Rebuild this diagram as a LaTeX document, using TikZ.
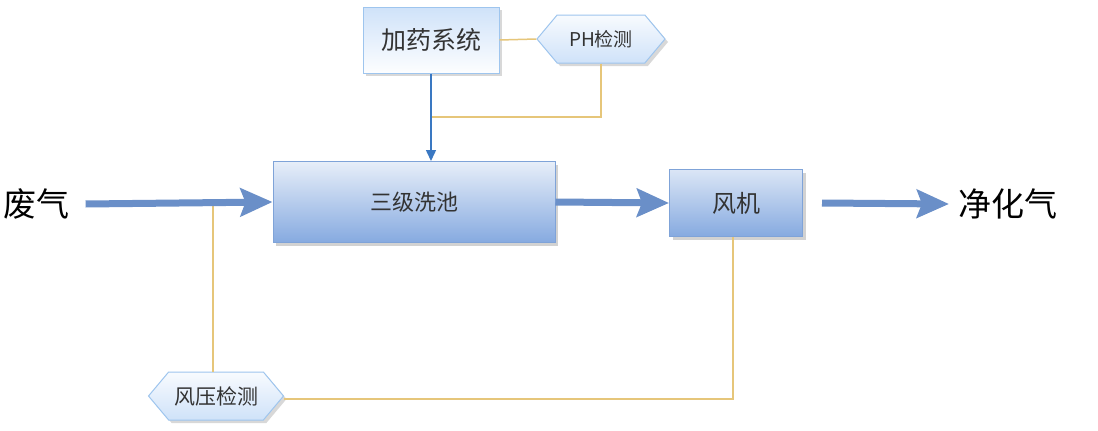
\documentclass[tikz,border=0pt]{standalone}
\usepackage{fontspec}
\setmainfont{Liberation Sans}
\newfontfamily\cjk{Noto Sans CJK SC}
\usetikzlibrary{arrows.meta,shapes.symbols,shadows,calc}
\definecolor{thick}{HTML}{6A8FC8}
\definecolor{gold}{HTML}{E6C67A}
\definecolor{thinblue}{HTML}{3A78C2}
\definecolor{boxline}{HTML}{7FA3D8}
\definecolor{lightline}{HTML}{9EC5EE}
\definecolor{boxblue}{HTML}{86AAE0}
\definecolor{topblue}{HTML}{CFE2F9}
\tikzset{
  mainbox/.style={draw=boxline, line width=1pt, top color=#1, bottom color=boxblue,
    drop shadow={opacity=0.35, shadow xshift=3pt, shadow yshift=-3pt},
    text=black!80},
  lightbox/.style={draw=lightline, line width=1pt, top color=topblue, bottom color=white!95!topblue,
    drop shadow={opacity=0.3, shadow xshift=3pt, shadow yshift=-3pt},
    font=\cjk\fontsize{25}{27}\selectfont, text=black!80},
  hexa/.style={signal, signal to=west and east, signal pointer angle=100,
    draw=lightline, line width=1pt, top color=white!85!topblue, bottom color=topblue,
    drop shadow={opacity=0.3, shadow xshift=3pt, shadow yshift=-3pt},
    inner sep=0pt, text=black!80},
  bigarrow/.style={draw=thick, line width=7pt, -{Stealth[length=32pt,width=28pt,inset=5pt]}},
  goldline/.style={draw=gold, line width=1.5pt},
  label/.style={font=\cjk\fontsize{33}{35}\selectfont, text=black}
}
\begin{document}
\begin{tikzpicture}[x=1pt,y=-1pt]
\useasboundingbox (0,0) rectangle (1098,431);
\fill[white] (0,0) rectangle (1098,431);

\node[lightbox, minimum width=136pt, minimum height=66pt] (dose) at (431,40) {加药系统};
\node[hexa, minimum width=128pt, minimum height=48pt, font=\cjk\fontsize{19}{21}\selectfont] (ph) at (601,39) {PH检测};
\node[mainbox=white!80!boxblue, minimum width=282pt, minimum height=81pt, font=\cjk\fontsize{22}{24}\selectfont] (pool) at (414,202) {三级洗池};
\node[mainbox=white!70!boxblue, minimum width=133pt, minimum height=67pt, font=\cjk\fontsize{24}{26}\selectfont] (fan) at (736,203) {风机};
\node[hexa, minimum width=135pt, minimum height=48pt, font=\cjk\fontsize{21}{23}\selectfont] (wp) at (216,396) {风压检测};
\node[label, anchor=center] (waste) at (37,204) {废气};
\node[label, anchor=center] (clean) at (1008,204) {净化气};

\coordinate (phbend) at (ph.south |- 0,117);
\coordinate (dosebend) at (dose.south |- 0,117);
\coordinate (tap) at (213,203);
\coordinate (fanbend) at (733,399);

% gold connectors
\draw[goldline] (dose.east) -- (ph.west);
\draw[goldline] (ph.south) -- (phbend) -- (dosebend);
\draw[goldline] (tap) -- (tap |- wp.north);
\draw[goldline] (wp.east |- fanbend) -- (fanbend) -- (fanbend |- fan.south);

% arrows
\draw[draw=thinblue, line width=1.5pt, -{Triangle[length=11pt,width=10pt]}] (dose.south) -- (pool.north -| dose.south);
\draw[bigarrow] (waste.east) ++(12pt,0) coordinate (ws) -- (pool.west);
\draw[bigarrow] (pool.east) -- (fan.west);
\draw[bigarrow] ($(fan.east)+(19pt,0)$) coordinate (fe) -- ($(clean.west)+(-6pt,0)$);
\end{tikzpicture}
\end{document}
